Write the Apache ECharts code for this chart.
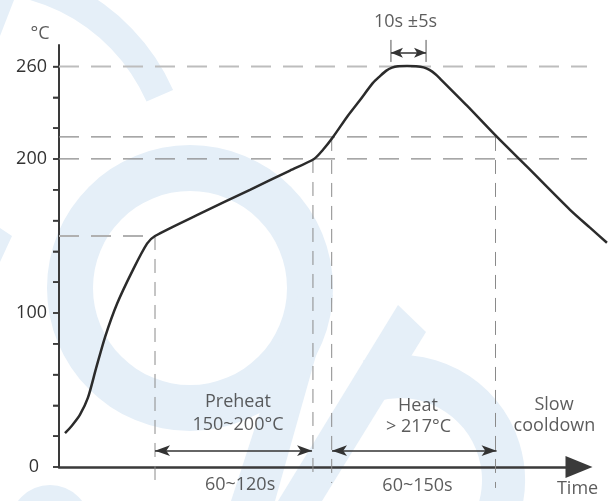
<!DOCTYPE html>
<html>
<head>
<meta charset="utf-8">
<script src="https://cdn.jsdelivr.net/npm/echarts@6/dist/echarts.min.js"></script>
<style>
html,body{margin:0;padding:0;background:#ffffff;}
#chart{width:610px;height:501px;}
</style>
</head>
<body>
<div id="chart"></div>
<script>
// ---------------- data (time in s, temperature in °C) ----------------
const profileTime = [4.0, 8.7, 14, 19.3, 24.7, 30.7, 38.7, 49.3, 58.7, 64, 94, 127.3, 154, 170, 176, 182.7, 192, 200.7, 209.3, 214, 218, 222, 226, 232, 238, 243, 247, 251, 254, 272, 292, 312, 340.7, 354, 365.3];
const profileTemp = [22, 27, 34, 45, 64, 84.4, 106, 128, 145, 150, 164.5, 180, 192.5, 200, 206, 214.3, 227.3, 238.3, 249.4, 253.8, 257.2, 259.3, 260.2, 260.4, 260.2, 259.5, 257.8, 255, 252.2, 234.6, 214.3, 195, 167, 155.4, 145.6];

const yTickValues = [0, 20, 40, 60, 80, 100, 120, 140, 160, 180, 200, 220, 240, 260];
const yLabelValues = [0, 100, 200, 260];

// horizontal guide levels and where each guide ends (time)
const guideTemps = [260, 214.3, 200, 150];
const guideEnds = [352, 352, 352, 64];

// vertical stage guides: time, top temp, bottom temp
const stageTimes = [64, 169.3, 181.8, 291];
const stageTops = [150, 200, 214.3, 214.3];
const stageBottoms = [-11.7, -4.5, -10.4, -13.6];

// double-headed spans: start time, end time, temperature level
const spanStarts = [64, 182, 221.3];
const spanEnds = [168.7, 291.7, 244.7];
const spanLevels = [10.6, 10.6, 269];

// end marks of the peak span
const peakMarkTimes = [221.3, 244.7];
const peakMarkLow = 263;
const peakMarkHigh = 277.3;

// annotation texts
const noteTexts = ['°C', '10s ±5s', 'Preheat', '150~200°C', '60~120s', 'Heat', '> 217°C', '60~150s', 'Slow', 'cooldown', 'Time'];
const noteTimes = [-12.7, 231, 119.3, 119.3, 120.7, 239.3, 239.7, 239, 330, 330.3, 345.7];
const noteTemps = [281.5, 288.9, 42.2, 27.6, -11.4, 39.6, 26.0, -12.3, 40.3, 26.6, -14.3];

// ---------------- layout ----------------
const W = 610, H = 501;
const LEFT = 59, AXIS_END = 579, TOP = 45, ZERO = 467;
const TICK_LEN = 6;
const PX_PER_S = 1.5;
const Y_MAX = 274;
const Y_LABEL_MAX = 260;
const K = (ZERO - TOP) / Y_MAX;
const FONT = 'Open Sans';
const TEXT_COLOR = '#333333';
const AXIS_COLOR = '#3a3a3a';
const WM = '#e5eff8';

const guideStyles = [
  {color: '#bdbdbd', width: 2, type: [20, 12]},
  {color: '#8a8a8a', width: 1.2, type: [20, 12]},
  {color: '#8a8a8a', width: 1.2, type: [20, 12]},
  {color: '#b0b0b0', width: 2, type: [20, 12]}
];

const chart = echarts.init(document.getElementById('chart'), null, {renderer: 'canvas'});

const B = {xAxisIndex: 1, yAxisIndex: 1, clip: false, silent: true, animation: false};
const series = [];

guideTemps.forEach(function (v, i) {
  series.push(Object.assign({
    type: 'line', symbol: 'none', z: 3,
    data: [[0, v], [guideEnds[i], v]],
    lineStyle: guideStyles[i]
  }, B));
});

stageTimes.forEach(function (t, i) {
  series.push(Object.assign({
    type: 'line', symbol: 'none', z: 3,
    data: [[t, stageTops[i]], [t, stageBottoms[i]]],
    lineStyle: {color: '#8a8a8a', width: 1, type: [14, 9]}
  }, B));
});

peakMarkTimes.forEach(function (t) {
  series.push(Object.assign({
    type: 'line', symbol: 'none', z: 3,
    data: [[t, peakMarkLow], [t, peakMarkHigh]],
    lineStyle: {color: '#555555', width: 1}
  }, B));
});

series.push(Object.assign({
  type: 'line', name: 'profile', z: 6,
  data: profileTime.map(function (t, i) { return [t, profileTemp[i]]; }),
  smooth: 0.25, symbol: 'none',
  lineStyle: {color: '#2b2b2b', width: 2.5}
}, B));

const arrowSizes = [[8, 15], [8, 15], [7.5, 12]];
spanStarts.forEach(function (s, i) {
  series.push(Object.assign({
    type: 'line', data: [], z: 5,
    markLine: {
      silent: true, animation: false,
      symbol: ['arrow', 'arrow'], symbolSize: arrowSizes[i],
      label: {show: false},
      emphasis: {disabled: true},
      lineStyle: {color: '#333333', width: 1.5, type: 'solid'},
      data: [[{coord: [s, spanLevels[i]]}, {coord: [spanEnds[i], spanLevels[i]]}]]
    }
  }, B));
});

series.push(Object.assign({
  type: 'scatter', symbolSize: 0, z: 7,
  data: noteTexts.map(function (txt, i) { return {name: txt, value: [noteTimes[i], noteTemps[i]]}; }),
  label: {
    show: true, position: 'inside',
    formatter: function (p) { return p.name; },
    color: TEXT_COLOR, fontSize: 18, fontFamily: FONT
  }
}, B));

const watermark = [
  {type: 'sector', z: -10, silent: true, shape: {cx: -20, cy: 175, r0: 182, r: 211, startAngle: -Math.PI / 2 - 0.25, endAngle: -0.415}, style: {fill: WM}},
  {type: 'polygon', z: -10, silent: true, shape: {points: [[0, 0], [14, 0], [0, 36]]}, style: {fill: WM}},
  {type: 'polygon', z: -10, silent: true, shape: {points: [[0, 228], [12, 236], [0, 262]]}, style: {fill: WM}},
  {type: 'ring', z: -10, silent: true, shape: {cx: 190, cy: 288, r: 143, r0: 97}, style: {fill: WM}},
  {type: 'polygon', z: -10, silent: true, shape: {points: [[333, 295], [298, 295], [231, 501], [275, 501]]}, style: {fill: WM}},
  {type: 'polygon', z: -10, silent: true, shape: {points: [[398, 305], [426, 332], [322, 501], [278, 501]]}, style: {fill: WM}},
  {type: 'sector', z: -10, silent: true, shape: {cx: 400, cy: 480, r0: 82, r: 125, startAngle: -1.87, endAngle: 0.3}, style: {fill: WM}},
  {type: 'ring', z: -10, silent: true, shape: {cx: 50, cy: 525, r: 40, r0: 22}, style: {fill: WM}}
];

// outward tick marks of the temperature axis, from the same scale constants that configure the axis
const tickMarks = yTickValues.map(function (v) {
  const y = ZERO - v * K;
  return {
    type: 'rect', z: 100, silent: true,
    shape: {x: LEFT - TICK_LEN, y: y - 0.75, width: TICK_LEN, height: 1.5},
    style: {fill: AXIS_COLOR}
  };
});

const option = {
  backgroundColor: '#ffffff',
  animation: false,
  graphic: {elements: watermark.concat(tickMarks)},
  grid: [
    {left: LEFT, top: TOP, width: AXIS_END - LEFT, height: ZERO - TOP, containLabel: false},
    {left: 0, top: 0, width: W, height: H, containLabel: false},
    {left: LEFT, top: ZERO - Y_LABEL_MAX * K, width: AXIS_END - LEFT, height: Y_LABEL_MAX * K, containLabel: false}
  ],
  xAxis: [
    {
      type: 'value', gridIndex: 0, min: 0, max: (AXIS_END - LEFT) / PX_PER_S,
      axisLine: {show: true, onZero: false, symbol: ['none', 'triangle'], symbolSize: [22, 27], lineStyle: {color: AXIS_COLOR, width: 2.5}},
      axisTick: {show: false}, axisLabel: {show: false}, splitLine: {show: false}
    },
    {
      type: 'value', gridIndex: 1, min: -LEFT / PX_PER_S, max: (W - LEFT) / PX_PER_S, show: false,
      splitLine: {show: false}
    },
    {
      type: 'value', gridIndex: 2, min: 0, max: (AXIS_END - LEFT) / PX_PER_S, show: false,
      splitLine: {show: false}
    }
  ],
  yAxis: [
    {
      type: 'value', gridIndex: 0, min: 0, max: Y_MAX,
      axisLine: {show: true, onZero: false, lineStyle: {color: AXIS_COLOR, width: 2}},
      axisTick: {show: false}, axisLabel: {show: false}, splitLine: {show: false}
    },
    {
      type: 'value', gridIndex: 1, min: -(H - ZERO) / K, max: Y_MAX + TOP / K, show: false,
      splitLine: {show: false}
    },
    {
      type: 'value', gridIndex: 2, min: 0, max: Y_LABEL_MAX, interval: 20,
      axisLine: {show: true, onZero: false, lineStyle: {color: AXIS_COLOR, width: 2}},
      axisTick: {show: true, inside: false, length: TICK_LEN, lineStyle: {color: AXIS_COLOR, width: 1.5}},
      axisLabel: {
        show: true, margin: 12,
        color: TEXT_COLOR, fontSize: 18, fontFamily: FONT,
        formatter: function (v) {
          if (yLabelValues.indexOf(v) < 0) { return ''; }
          return v === 0 ? '{z|0}' : String(v);
        },
        rich: {z: {padding: [0, 8, 0, 0], color: TEXT_COLOR, fontSize: 18, fontFamily: FONT}}
      },
      splitLine: {show: false}
    }
  ],
  series: series
};

chart.setOption(option);
</script>
</body>
</html>
